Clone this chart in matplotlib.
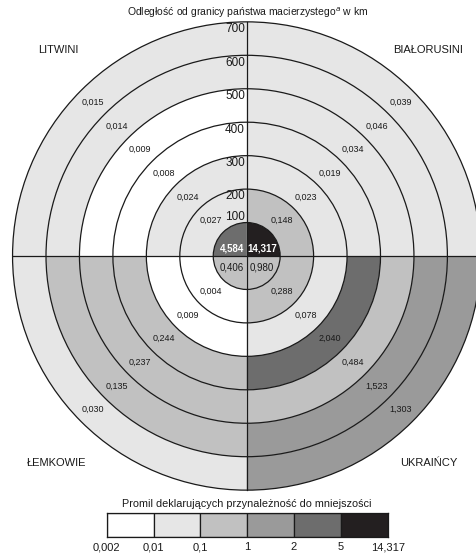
import numpy as np
import matplotlib
matplotlib.use("Agg")
from matplotlib import pyplot as plt
from matplotlib.patches import Wedge

plt.rcParams['font.family'] = ['Liberation Sans', 'DejaVu Sans']

# data
groups = ['BIAŁORUSINI', 'LITWINI', 'ŁEMKOWIE', 'UKRAIŃCY']
distances = [100, 200, 300, 400, 500, 600, 700]
bialorusini = [14.317, 0.148, 0.023, 0.019, 0.034, 0.046, 0.039]
litwini = [4.584, 0.027, 0.024, 0.008, 0.009, 0.014, 0.015]
lemkowie = [0.406, 0.004, 0.009, 0.244, 0.237, 0.135, 0.030]
ukraincy = [0.980, 0.288, 0.078, 2.040, 0.484, 1.523, 1.303]
bins = [0.002, 0.01, 0.1, 1, 2, 5, 14.317]
bin_labels = ['0,002', '0,01', '0,1', '1', '2', '5', '14,317']
colors = ['#ffffff', '#e6e6e6', '#c1c1c1', '#9a9a9a', '#6d6d6d', '#231f20']

series = [bialorusini, litwini, lemkowie, ukraincy]


def fmt(v):
    return f'{v:.3f}'.replace('.', ',')


def color_of(v):
    i = np.searchsorted(bins, v, side='right') - 1
    return colors[min(max(i, 0), len(colors) - 1)]


W, H = 477, 554
fig = plt.figure(figsize=(W / 100, H / 100), dpi=100)

# main axes in km, center of target at pixel (246.7, 256), 100 km = 33.45 px
cx, cy, s = 246.7, 256.0, 0.3345
ax = fig.add_axes([0, 0, 1, 1])
ax.set_xlim(-cx / s, (W - cx) / s)
ax.set_ylim(-(H - cy) / s, cy / s)
ax.axis('off')

for q, vals in enumerate(series):
    t1 = 90 * q
    for k, v in enumerate(vals):
        r = distances[k]
        ax.add_patch(Wedge((0, 0), r, t1, t1 + 90, width=100,
                           facecolor=color_of(v), edgecolor='none'))

for r in distances:
    ax.add_patch(plt.Circle((0, 0), r, fill=False, edgecolor='#1a1a1a', lw=0.9))
R = distances[-1]
ax.plot([-R, R], [0, 0], color='#1a1a1a', lw=0.9)
ax.plot([0, 0], [-R, R], color='#1a1a1a', lw=0.9)

# value labels
for q, vals in enumerate(series):
    ang = np.deg2rad(45 + 90 * q)
    for k, v in enumerate(vals):
        if k == 0:
            sx = 1 if np.cos(ang) > 0 else -1
            sy = 21 if np.sin(ang) > 0 else -35
            dark = v >= 2
            ax.text(sx * 45, sy, fmt(v), ha='center', va='center', fontsize=7,
                    color='white' if dark else '#1a1a1a',
                    fontweight='bold' if dark else 'normal')
        else:
            rm = distances[k] - 50
            ax.text(rm * np.cos(ang), rm * np.sin(ang), fmt(v),
                    ha='center', va='center', fontsize=6.5, color='#1a1a1a')

# distance labels
for r in distances:
    y = r + 17 if r == 100 else r - 22
    ax.text(-5, y, str(r), ha='right', va='center', fontsize=8.5, color='#1a1a1a')

# group labels
pos = {'BIAŁORUSINI': (543, 617), 'LITWINI': (-564, 617),
       'ŁEMKOWIE': (-567, -619), 'UKRAIŃCY': (543, -619)}
for g in groups:
    ax.text(*pos[g], g, ha='center', va='center', fontsize=8, color='#1a1a1a')

fig.text(247.5 / W, 1 - 12.5 / H, 'Odległość od granicy państwa macierzystego$^{a}$ w km',
         ha='center', va='center', fontsize=7.5, color='#1a1a1a')

# legend
fig.text(246.5 / W, 1 - 504 / H, 'Promil deklarujących przynależność do mniejszości',
         ha='center', va='center', fontsize=7.8, color='#1a1a1a')
lx0, lx1, ly0, ly1 = 106.7, 387.7, 513, 536.7
lax = fig.add_axes([lx0 / W, 1 - ly1 / H, (lx1 - lx0) / W, (ly1 - ly0) / H])
lax.bar(np.arange(len(colors)) + 0.5, np.ones(len(colors)), width=1,
        color=colors, edgecolor='#1a1a1a', linewidth=0.9)
lax.set_xlim(0, len(colors))
lax.set_ylim(0, 1)
lax.set_xticks(np.arange(len(bin_labels)))
lax.set_xticklabels(bin_labels, fontsize=8, color='#1a1a1a')
lax.tick_params(axis='x', length=0, pad=4)
lax.set_yticks([])
for sp in lax.spines.values():
    sp.set_linewidth(0.9)
    sp.set_color('#1a1a1a')

fig.savefig('out.png', dpi=100)
